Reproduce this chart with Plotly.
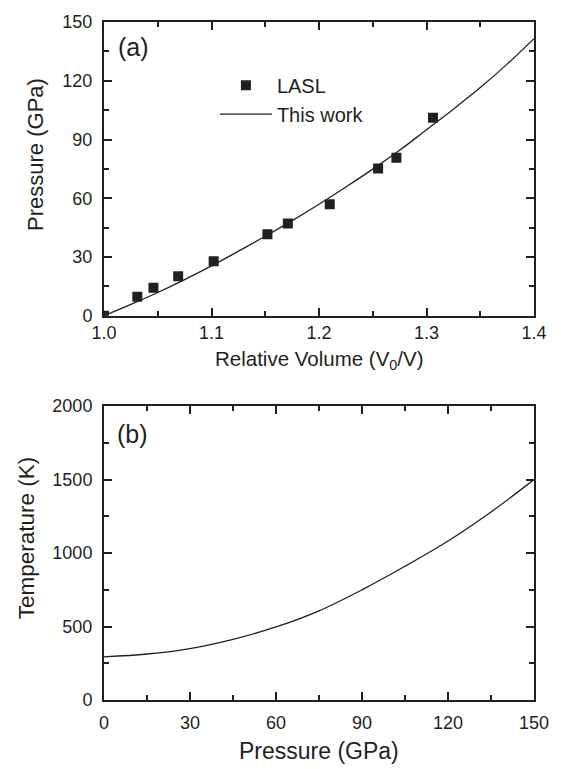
import plotly.graph_objects as go

# ---- data ----
lasl_v = [1.000, 1.031, 1.046, 1.069, 1.102, 1.152, 1.171, 1.210, 1.255, 1.272, 1.306]
lasl_p = [0.0, 9.8, 14.3, 20.2, 27.9, 41.7, 47.1, 57.0, 75.2, 80.7, 101.1]

work_v = [1.0, 1.025, 1.05, 1.075, 1.1, 1.125, 1.15, 1.175, 1.2, 1.225, 1.25,
          1.275, 1.3, 1.325, 1.35, 1.375, 1.4]
work_p = [0.0, 5.8, 11.9, 18.5, 25.5, 33.0, 40.6, 48.6, 57.0, 65.8, 74.9,
          84.5, 95.0, 105.5, 116.5, 128.5, 141.5]

temp_p = [0, 15, 30, 45, 60, 75, 90, 105, 120, 135, 150]
temp_t = [294, 313, 350, 413, 497, 607, 750, 910, 1082, 1280, 1500]

FONT = "Liberation Sans, Arial, Helvetica, sans-serif"
INK = "#231f20"

W, H = 561, 769
ML, MR, MT, MB = 104, 15, 17, 69
PW, PH = W - ML - MR, H - MT - MB


def px(x):
    return (x - ML) / PW


def py(y):
    return (H - MB - y) / PH


fig = go.Figure()
fig.add_trace(go.Scatter(x=lasl_v, y=lasl_p, mode="markers", name="LASL",
                         marker=dict(symbol="square", size=10, color=INK),
                         xaxis="x", yaxis="y"))
fig.add_trace(go.Scatter(x=work_v, y=work_p, mode="lines", name="This work",
                         line=dict(color=INK, width=1.3, shape="spline"),
                         xaxis="x", yaxis="y"))
fig.add_trace(go.Scatter(x=temp_p, y=temp_t, mode="lines", showlegend=False,
                         line=dict(color=INK, width=1.3, shape="spline"),
                         xaxis="x2", yaxis="y2"))

common = dict(showgrid=False, zeroline=False, showline=True, linecolor=INK,
              linewidth=2, mirror="ticks", ticks="inside", ticklen=8,
              tickwidth=1.5, tickcolor=INK,
              tickfont=dict(family=FONT, size=18, color=INK))

fig.update_layout(
    width=W, height=H,
    margin=dict(l=ML, r=MR, t=MT, b=MB, pad=0),
    paper_bgcolor="white", plot_bgcolor="white",
    font=dict(family=FONT, color=INK),
    xaxis=dict(domain=[0, 1], range=[1.0, 1.4], dtick=0.1, tickformat=".1f",
               anchor="y", ticklabelstandoff=0,
               minor=dict(ticks="inside", dtick=0.05, ticklen=5, tickcolor=INK, tickwidth=1.5),
               **common),
    yaxis=dict(domain=[py(313), 1.0], range=[0, 150], dtick=30, anchor="x",
               ticklabelstandoff=6,
               minor=dict(ticks="inside", dtick=15, ticklen=5, tickcolor=INK, tickwidth=1.5),
               **common),
    xaxis2=dict(domain=[0, 1], range=[0, 150], dtick=30, anchor="y2",
                ticklabelstandoff=5,
                minor=dict(ticks="inside", dtick=15, ticklen=5, tickcolor=INK, tickwidth=1.5),
                **common),
    yaxis2=dict(domain=[0, py(404)], range=[0, 2000], dtick=500, anchor="x2",
                ticklabelstandoff=6,
                minor=dict(ticks="inside", dtick=250, ticklen=5, tickcolor=INK, tickwidth=1.5),
                **common),
    legend=dict(x=px(218), y=py(61), xanchor="left", yanchor="top",
                bgcolor="rgba(0,0,0,0)", borderwidth=0,
                font=dict(family=FONT, size=20, color=INK),
                itemwidth=52, tracegroupgap=0),
    showlegend=True,
)

ann = [
    dict(text="(a)", x=px(116), y=py(42), xanchor="left", size=25),
    dict(text="(b)", x=px(115), y=py(432), xanchor="left", size=25),
    dict(text="Pressure (GPa)", x=px(33), y=py(150), xanchor="center", size=22, angle=-90),
    dict(text="Relative Volume (V<sub>0</sub>/V)", x=px(325), y=py(357), xanchor="center", size=20.5),
    dict(text="Temperature (K)", x=px(24), y=py(537), xanchor="center", size=22.5, angle=-90),
    dict(text="Pressure (GPa)", x=px(325), y=py(751), xanchor="center", size=23),
]
for a in ann:
    fig.add_annotation(text=a["text"], x=a["x"], y=a["y"], xref="paper", yref="paper",
                       xanchor=a["xanchor"], yanchor="middle", showarrow=False,
                       textangle=a.get("angle", 0),
                       font=dict(family=FONT, size=a["size"], color=INK))

fig.write_html("out.html")
